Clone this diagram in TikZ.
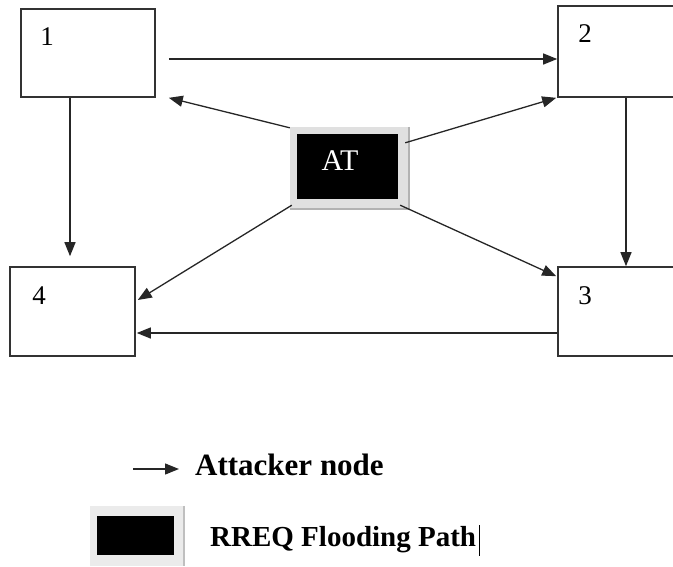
\documentclass[tikz,border=0pt]{standalone}
\usepackage{fontspec}
\setmainfont{Liberation Serif}
\usetikzlibrary{arrows.meta,calc}
\begin{document}
\begin{tikzpicture}[x=1pt,y=-1pt,
  box/.style={draw=black!80,line width=1.6pt,rectangle,inner sep=0pt},
  arr/.style={draw=black!85,line width=1.3pt,-{Triangle[length=14pt,width=11pt]}},
  lab/.style={font=\fontsize{27}{27}\selectfont,inner sep=0pt},
  leg/.style={font=\fontsize{30}{30}\selectfont\bfseries,inner sep=0pt,anchor=west}]
\useasboundingbox (0,0) rectangle (673,566);
\clip (0,0) rectangle (673,566);
% nodes
\node[box,minimum width=134pt,minimum height=88pt] (n1) at (88,53) {};
\node[box,minimum width=142pt,minimum height=91pt] (n2) at (629,51.5) {};
\node[box,minimum width=142pt,minimum height=89pt] (n3) at (629,311.5) {};
\node[box,minimum width=125pt,minimum height=89pt] (n4) at (72.5,311.5) {};
\node[lab] (t1) at (47,37) {1};
\node[lab] (t2) at (585,34) {2};
\node[lab] (t3) at (585,296) {3};
\node[lab] (t4) at (39,296) {4};
% attacker
\node[fill=black!12,minimum width=119pt,minimum height=82pt,inner sep=0pt] (atf) at (349.5,168) {};
\draw[black!30,line width=2pt] (atf.north east) -- (atf.south east) -- (atf.south west);
\node[fill=black,minimum width=101pt,minimum height=65pt,inner sep=0pt] (at) at (347.5,166.5) {};
\node[lab,text=white,font=\fontsize{30}{30}\selectfont] (att) at (340,161) {AT};
% connectors
\draw[arr] ($(n1.east)+(13,6)$) -- ($(n2.west)+(0,7.5)$);
\draw[arr] ($(n1.south)+(-18,0)$) -- ($(n4.north)+(-2.5,-10)$);
\draw[arr] ($(n2.south)+(-3,0)$) -- ($(n3.north)+(-3,0)$);
\draw[arr] ($(n3.west)+(0,21.5)$) -- ($(n4.east)+(1,21.5)$);
\draw[arr] ($(at.north west)+(-7,-6)$) -- ($(n1.south east)+(13,0)$);
\draw[arr] ($(at.north east)+(7,9)$) -- ($(n2.south west)+(-1,0)$);
\draw[arr] ($(at.south west)+(-5,6)$) -- ($(n4.east)+(2,-11.5)$);
\draw[arr] ($(at.south east)+(2,6)$) -- ($(n3.north west)+(-1,10)$);
% legend
\coordinate (la) at (133,469);
\coordinate (lb) at (179,469);
\draw[arr] (la) -- (lb);
\node[leg,font=\fontsize{31}{31}\selectfont\bfseries] (lt1) at (195,465) {Attacker node};
\node[fill=black!8,minimum width=94pt,minimum height=60pt,inner sep=0pt] (lgf) at (137,536) {};
\draw[black!25,line width=1.5pt] (lgf.north east) -- (lgf.south east);
\node[fill=black,minimum width=77pt,minimum height=39pt,inner sep=0pt] (lg) at (135.5,535.5) {};
\node[leg,font=\fontsize{29}{29}\selectfont\bfseries] (lt2) at (210,540) {RREQ Flooding Path};
\draw[black,line width=1.5pt] ($(lt2.east)+(3,-15)$) -- ($(lt2.east)+(3,16)$);
\end{tikzpicture}
\end{document}
